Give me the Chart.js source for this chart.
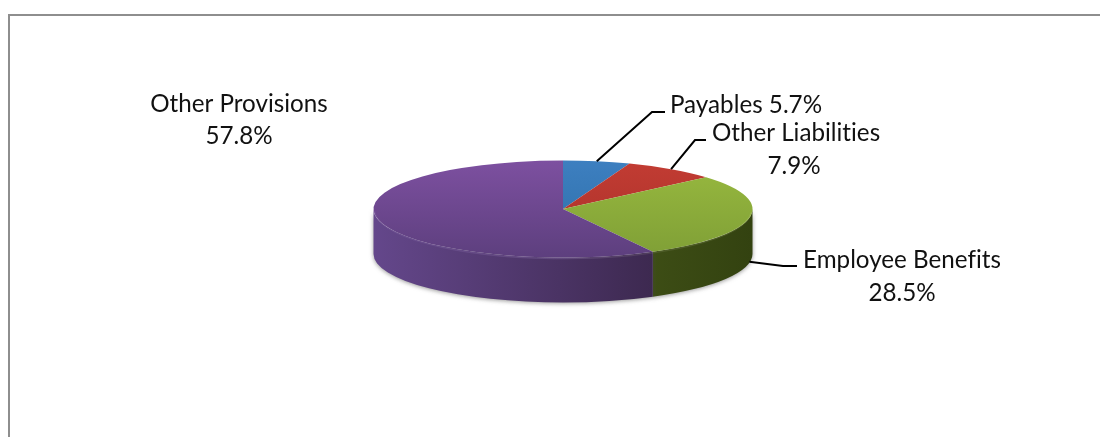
<!DOCTYPE html>
<html>
<head>
<meta charset="utf-8">
<style>
    html, body { margin: 0; padding: 0; background: #ffffff; overflow: hidden; }
    #wrap { position: relative; width: 1100px; height: 437px; }
    #wrap canvas { display: block; }
</style>
<script src="https://cdn.jsdelivr.net/npm/chart.js@4/dist/chart.umd.js"></script>
</head>
<body>
<div id="wrap"><canvas id="provisions"></canvas></div>
<script>
const categories = ['Payables', 'Other Liabilities', 'Employee Benefits', 'Other Provisions'];
const shares = [5.7, 7.9, 28.5, 57.8];

const topLight = ['#3d7fc0', '#c23c33', '#98b93f', '#7d50a0'];
const topDark = ['#2c6ea6', '#a93029', '#7f9f36', '#5d3f7e'];
const sideLight = ['#2a5580', '#7a2420', '#3d4d15', '#64478b'];
const sideDark = ['#2a5580', '#7a2420', '#334210', '#3d2950'];

const squash = 0.256;
const depth = 45;

// where each caption goes, one line per row: [text row, centre x, centre y]
const captions = [
    { rows: [[categories[0] + ' ' + shares[0] + '%', 746, 105]], elbow: [652, 112], end: 665, offset: 0 },
    { rows: [[categories[1], 796, 133], [shares[1] + '%', 794, 166]], elbow: [695, 140], end: 706, offset: 0 },
    { rows: [[categories[2], 902, 260], [shares[2] + '%', 902, 293]], elbow: [783, 266], end: 797, offset: depth - 1 },
    { rows: [[categories[3], 239, 104], [shares[3] + '%', 239, 136]], elbow: null, end: 0, offset: 0 }
];

// flat disc with a rim: squash the library's arcs and paint the side wall under them
const discPlugin = {
    id: 'disc',
    beforeDatasetsDraw(chart) {
        const ctx = chart.ctx;
        const arcs = chart.getDatasetMeta(0).data;
        arcs.forEach(function (arc, i) {
            const p = arc.getProps(['x', 'y', 'startAngle', 'endAngle', 'outerRadius'], true);
            const from = Math.max(p.startAngle, 0);
            const to = Math.min(p.endAngle, Math.PI);
            if (to <= from) {
                return;
            }
            const ry = p.outerRadius * squash;
            const x0 = p.x + p.outerRadius * Math.cos(to);
            const x1 = p.x + p.outerRadius * Math.cos(from);
            const wall = ctx.createLinearGradient(x0, 0, x1, 0);
            wall.addColorStop(0, sideLight[i]);
            wall.addColorStop(1, sideDark[i]);
            ctx.save();
            ctx.shadowColor = 'rgba(70, 70, 70, 0.55)';
            ctx.shadowBlur = 4;
            ctx.shadowOffsetY = 1;
            ctx.beginPath();
            ctx.ellipse(p.x, p.y, p.outerRadius, ry, 0, from, to);
            ctx.ellipse(p.x, p.y + depth, p.outerRadius, ry, 0, to, from, true);
            ctx.closePath();
            ctx.fillStyle = wall;
            ctx.fill();
            ctx.restore();
        });
        const c = arcs[0];
        ctx.save();
        ctx.translate(c.x, c.y);
        ctx.scale(1, squash);
        ctx.translate(-c.x, -c.y);
    },
    afterDatasetsDraw(chart) {
        const ctx = chart.ctx;
        ctx.restore();
        const arcs = chart.getDatasetMeta(0).data;
        const c = arcs[0];
        // pale bevel along the front edge of the top face
        const bevel = ctx.createLinearGradient(c.x - c.outerRadius, 0, c.x + c.outerRadius, 0);
        bevel.addColorStop(0, 'rgba(180, 150, 215, 0.1)');
        bevel.addColorStop(0.5, 'rgba(180, 150, 215, 0.22)');
        bevel.addColorStop(0.75, 'rgba(190, 190, 160, 0.12)');
        bevel.addColorStop(1, 'rgba(190, 210, 120, 0.2)');
        ctx.save();
        ctx.beginPath();
        ctx.ellipse(c.x, c.y + 1, c.outerRadius - 1, c.outerRadius * squash, 0, 0.05, Math.PI - 0.02);
        ctx.strokeStyle = bevel;
        ctx.lineWidth = 1.5;
        ctx.stroke();
        ctx.restore();
    },
    afterDraw(chart) {
        const ctx = chart.ctx;
        const arcs = chart.getDatasetMeta(0).data;
        ctx.save();
        // frame runs off the right and bottom of the page
        ctx.strokeStyle = '#8e8e8e';
        ctx.lineWidth = 2;
        ctx.beginPath();
        ctx.moveTo(9, 437);
        ctx.lineTo(9, 15);
        ctx.lineTo(1100, 15);
        ctx.stroke();

        ctx.font = '24.2px Lato';
        // a tiny spacing keeps Lato from joining ti and fi
        ctx.letterSpacing = '0.01px';
        ctx.fillStyle = '#111111';
        ctx.textAlign = 'center';
        ctx.textBaseline = 'middle';
        captions.forEach(function (cap, i) {
            cap.rows.forEach(function (row) {
                ctx.fillText(row[0], row[1], row[2]);
            });
            if (!cap.elbow) {
                return;
            }
            // leader starts on the rim at the middle of the slice
            const p = arcs[i].getProps(['x', 'y', 'startAngle', 'endAngle', 'outerRadius'], true);
            const mid = (p.startAngle + p.endAngle) / 2;
            ctx.strokeStyle = '#000000';
            ctx.lineWidth = 2;
            ctx.beginPath();
            ctx.moveTo(p.x + p.outerRadius * Math.cos(mid), p.y + p.outerRadius * squash * Math.sin(mid) + cap.offset);
            ctx.lineTo(cap.elbow[0], cap.elbow[1]);
            ctx.lineTo(cap.end, cap.elbow[1]);
            ctx.stroke();
        });
        ctx.restore();
    }
};

function faceColor(context) {
    const chart = context.chart;
    const i = context.dataIndex;
    if (!chart.chartArea) {
        return topLight[i];
    }
    const area = chart.chartArea;
    const face = chart.ctx.createLinearGradient(0, area.top, 0, area.bottom);
    face.addColorStop(0, topLight[i]);
    face.addColorStop(1, topDark[i]);
    return face;
}

new Chart(document.getElementById('provisions').getContext('2d'), {
    type: 'pie',
    data: {
        labels: categories,
        datasets: [{
            data: shares,
            backgroundColor: faceColor,
            borderWidth: 0
        }]
    },
    options: {
        responsive: true,
        maintainAspectRatio: false,
        animation: false,
        layout: {
            padding: { left: 373.5, right: 347.5, top: 19.5, bottom: 38.5 }
        },
        plugins: {
            legend: { display: false },
            tooltip: { enabled: false }
        }
    },
    plugins: [discPlugin]
});
</script>
</body>
</html>
